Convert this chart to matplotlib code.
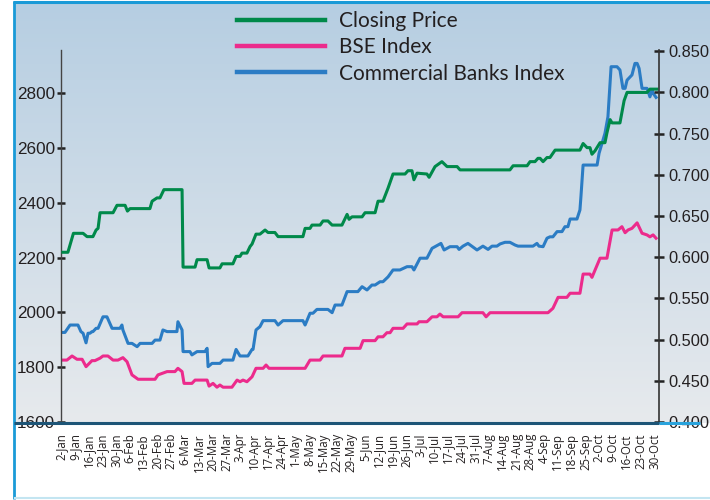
import numpy as np
import matplotlib
matplotlib.use("Agg")
import matplotlib.pyplot as plt
from matplotlib.lines import Line2D

# weekly tick labels (day offsets from 2-Jan)
tick_labels = [
    "2-Jan", "9-Jan", "16-Jan", "23-Jan", "30-Jan", "6-Feb", "13-Feb", "20-Feb",
    "27-Feb", "6-Mar", "13-Mar", "20-Mar", "27-Mar", "3-Apr", "10-Apr", "17-Apr",
    "24-Apr", "1-May", "8-May", "15-May", "22-May", "29-May", "5-Jun", "12-Jun",
    "19-Jun", "26-Jun", "3-Jul", "10-Jul", "17-Jul", "24-Jul", "31-Jul", "7-Aug",
    "14-Aug", "21-Aug", "28-Aug", "4-Sep", "11-Sep", "18-Sep", "25-Sep", "2-Oct",
    "9-Oct", "16-Oct", "23-Oct", "30-Oct",
]
tick_days = [7 * i for i in range(len(tick_labels))]

# Closing Price (right axis)
close_days = [
    1.0, 3.5, 6.3, 11.2, 13.2, 16.2, 17.8, 18.8, 19.8, 26.4,
    28.4, 32.5, 33.7, 35.0, 45.1, 46.2, 48.7, 50.2, 52.2, 61.4,
    61.9, 68.0, 69.0, 74.1, 75.1, 80.6, 81.7, 87.2, 88.8, 90.8,
    91.8, 94.3, 95.9, 96.9, 98.9, 100.9, 103.5, 105.0, 108.5, 110.1,
    122.7, 123.8, 126.3, 127.3, 131.4, 132.9, 135.4, 137.5, 142.5, 145.1,
    146.1, 147.6, 152.7, 154.2, 159.3, 160.8, 163.3, 165.9, 168.4, 174.5,
    176.0, 178.0, 179.0, 180.6, 185.6, 186.7, 189.7, 193.2, 195.8, 200.9,
    202.4, 227.7, 229.3, 236.4, 237.9, 240.4, 241.9, 243.0, 244.5, 246.5,
    248.0, 250.6, 263.2, 264.8, 266.8, 268.3, 269.3, 270.8, 273.4, 275.9,
    276.9, 278.5, 279.5, 283.5, 285.6, 287.1, 297.2, 298.7, 302.3,
]
close_vals = [
    0.606, 0.606, 0.629, 0.629, 0.625, 0.625, 0.633, 0.635, 0.654, 0.654,
    0.663, 0.663, 0.656, 0.659, 0.659, 0.668, 0.672, 0.672, 0.682, 0.682,
    0.588, 0.588, 0.597, 0.597, 0.587, 0.587, 0.592, 0.592, 0.601, 0.601,
    0.605, 0.605, 0.613, 0.616, 0.628, 0.628, 0.633, 0.630, 0.630, 0.625,
    0.625, 0.635, 0.635, 0.639, 0.639, 0.644, 0.644, 0.639, 0.639, 0.652,
    0.646, 0.649, 0.649, 0.654, 0.654, 0.668, 0.668, 0.684, 0.701, 0.701,
    0.705, 0.705, 0.694, 0.702, 0.701, 0.697, 0.710, 0.716, 0.710, 0.710,
    0.706, 0.706, 0.711, 0.711, 0.716, 0.716, 0.720, 0.720, 0.716, 0.721,
    0.721, 0.730, 0.730, 0.738, 0.733, 0.733, 0.725, 0.729, 0.739, 0.739,
    0.751, 0.767, 0.763, 0.763, 0.790, 0.800, 0.800, 0.804, 0.804,
]

# BSE Index (left axis)
bse_days = [
    1.0, 3.0, 5.6, 8.1, 10.7, 12.7, 15.7, 17.2, 19.8, 21.3,
    23.8, 26.4, 28.9, 31.4, 33.5, 36.0, 39.1, 47.7, 49.2, 53.8,
    57.8, 59.3, 61.4, 62.4, 66.4, 68.0, 74.1, 75.1, 77.1, 79.1,
    80.6, 82.2, 86.7, 89.3, 90.8, 92.3, 94.3, 96.9, 98.9, 102.5,
    104.0, 105.5, 123.8, 126.3, 131.4, 132.9, 142.5, 144.0, 151.7, 153.2,
    159.3, 160.8, 163.3, 165.3, 166.9, 168.4, 173.5, 175.5, 180.6, 181.6,
    185.6, 188.2, 190.7, 192.2, 193.8, 201.4, 203.4, 214.0, 215.6, 217.6,
    247.0, 249.5, 252.1, 256.6, 258.2, 263.2, 264.8, 268.3, 269.3, 273.4,
    276.9, 279.5, 282.5, 284.5, 286.1, 287.6, 289.6, 292.2, 294.7, 297.2,
    298.7, 300.3, 301.8,
]
bse_vals = [
    1826, 1826, 1841, 1829, 1829, 1802, 1824, 1824, 1833, 1841,
    1841, 1826, 1826, 1835, 1820, 1772, 1756, 1756, 1772, 1784,
    1784, 1796, 1784, 1741, 1741, 1753, 1753, 1731, 1741, 1727,
    1735, 1727, 1727, 1753, 1747, 1753, 1747, 1765, 1796, 1796,
    1808, 1796, 1796, 1826, 1826, 1841, 1841, 1869, 1869, 1897,
    1897, 1911, 1911, 1926, 1926, 1942, 1942, 1958, 1958, 1966,
    1966, 1984, 1984, 1994, 1984, 1984, 1999, 1999, 1984, 1999,
    1999, 2015, 2055, 2055, 2070, 2070, 2140, 2140, 2128, 2198,
    2198, 2301, 2301, 2313, 2291, 2301, 2307, 2327, 2289, 2283,
    2276, 2283, 2271,
]

# Commercial Banks Index (left axis)
bank_days = [
    1.0, 2.0, 4.6, 8.6, 10.1, 11.2, 12.7, 13.7, 14.7, 15.7,
    16.2, 17.8, 18.8, 21.3, 23.3, 25.9, 29.9, 30.9, 31.4, 34.0,
    36.0, 38.6, 40.1, 46.2, 47.7, 50.2, 51.7, 53.8, 58.8, 59.3,
    61.4, 61.9, 65.4, 66.4, 69.0, 73.0, 74.1, 74.6, 76.6, 80.6,
    82.2, 87.2, 88.8, 90.8, 94.8, 96.9, 97.4, 98.9, 100.9, 102.5,
    108.5, 110.1, 112.6, 122.7, 123.8, 126.3, 127.8, 129.8, 135.4, 137.5,
    139.0, 142.5, 145.1, 150.6, 152.7, 155.2, 157.7, 159.3, 161.8, 163.3,
    165.9, 168.4, 171.9, 175.5, 178.0, 179.0, 181.6, 182.1, 185.6, 188.2,
    191.2, 192.7, 194.3, 197.3, 200.9, 201.9, 203.9, 206.4, 211.0, 214.0,
    216.6, 218.6, 221.1, 222.7, 225.2, 227.7, 230.3, 231.8, 239.4, 241.4,
    242.4, 244.5, 246.5, 248.0, 249.5, 251.6, 254.1, 255.6, 257.1, 258.2,
    261.7, 263.2, 263.7, 264.8, 271.9, 272.9, 275.9, 277.4, 279.0, 282.0,
    283.5, 285.0, 286.1, 287.1, 289.6, 291.1, 292.2, 293.2, 294.7, 297.2,
    297.7, 298.7, 299.8, 300.3, 301.8,
]
bank_vals = [
    1927, 1927, 1954, 1954, 1930, 1924, 1889, 1924, 1924, 1930,
    1930, 1942, 1942, 1984, 1984, 1942, 1942, 1954, 1936, 1887,
    1887, 1875, 1887, 1887, 1899, 1899, 1936, 1930, 1930, 1966,
    1936, 1857, 1857, 1845, 1857, 1857, 1869, 1802, 1814, 1814,
    1826, 1826, 1865, 1841, 1841, 1865, 1865, 1936, 1948, 1970,
    1970, 1954, 1970, 1970, 1954, 1997, 1997, 2011, 2011, 1999,
    2027, 2027, 2076, 2076, 2094, 2082, 2100, 2100, 2112, 2112,
    2130, 2155, 2155, 2167, 2167, 2155, 2191, 2198, 2198, 2234,
    2246, 2252, 2228, 2240, 2240, 2230, 2242, 2252, 2228, 2242,
    2230, 2242, 2242, 2250, 2256, 2256, 2246, 2242, 2242, 2252,
    2242, 2240, 2271, 2276, 2276, 2295, 2295, 2313, 2313, 2341,
    2341, 2374, 2422, 2538, 2538, 2581, 2654, 2714, 2897, 2897,
    2885, 2818, 2818, 2848, 2867, 2909, 2909, 2891, 2818, 2818,
    2809, 2787, 2812, 2800, 2785,
]

left_ticks = [1600, 1800, 2000, 2200, 2400, 2600, 2800]
right_ticks = [0.40, 0.45, 0.50, 0.55, 0.60, 0.65, 0.70, 0.75, 0.80, 0.85]

GREEN = "#00894a"
PINK = "#ec2b8c"
BLUE = "#2b7cc4"
TEXT = "#231f20"
W, H = 710, 500

fig = plt.figure(figsize=(W / 100, H / 100), dpi=100)
fig.patch.set_facecolor("white")

# gradient panel behind the chart
bg = fig.add_axes([14 / W, 77 / H, (W - 14) / W, 420 / H])
top = np.array([182, 206, 226]) / 255
bot = np.array([231, 234, 237]) / 255
t = np.linspace(0, 1, 256)[:, None, None]
grad = top * (1 - t) + bot * t
bg.imshow(grad, aspect="auto", extent=[0, 1, 0, 1], origin="upper")
bg.axis("off")

ax = fig.add_axes([61 / W, 78 / H, 598 / W, 372 / H])
ax.patch.set_visible(False)
ax2 = ax.twinx()

ax.plot(bank_days, bank_vals, color=BLUE, lw=2.2, solid_joinstyle="round")
ax.plot(bse_days, bse_vals, color=PINK, lw=2.2, solid_joinstyle="round")
ax2.plot(close_days, close_vals, color=GREEN, lw=2.2, solid_joinstyle="round")

ax.set_xlim(0, 303.3)
ax.set_ylim(1600, 2958)
ax2.set_ylim(0.4, 0.8515)

ax.set_yticks(left_ticks)
ax.set_yticklabels([str(v) for v in left_ticks], family="Liberation Sans",
                   fontsize=12.3, color=TEXT)
ax2.set_yticks(right_ticks)
ax2.set_yticklabels([f"{v:.3f}" for v in right_ticks], family="Liberation Sans",
                    fontsize=11.8, color=TEXT)

ax.set_xticks(tick_days)
ax.set_xticklabels(tick_labels, rotation=90, family="Open Sans", fontsize=8.3,
                   color=TEXT, va="top", ha="center")
ax.tick_params(axis="x", length=0, pad=8)
ax.tick_params(axis="y", direction="inout", length=6, width=1.8, pad=1.5,
               color="#222222")
ax2.tick_params(axis="y", direction="inout", length=7, width=1.8, pad=3.5,
                color="#222222")

for a in (ax, ax2):
    a.spines["top"].set_visible(False)
    a.spines["bottom"].set_visible(False)
ax.spines["right"].set_visible(False)
ax.spines["left"].set_color("#444444")
ax.spines["left"].set_linewidth(1.0)
ax2.spines["left"].set_visible(False)
ax2.spines["right"].set_color("#333333")
ax2.spines["right"].set_linewidth(1.2)

# frame lines
def fig_line(x0, x1, y0, y1, color, lw):
    fig.add_artist(Line2D([x0 / W, x1 / W], [1 - y0 / H, 1 - y1 / H],
                          transform=fig.transFigure, color=color, lw=lw,
                          solid_capstyle="butt"))

fig_line(13.5, 13.5, 1, 499, "#1a9ad7", 2.0)
fig_line(13, W, 1.5, 1.5, "#1a9ad7", 2.2)
fig_line(14, W, 497.5, 497.5, "#c3e5f1", 1.5)
fig_line(14, 659, 423, 423, "#1d5577", 2.2)
fig_line(659, 700, 423, 423, "#2aa3dc", 2.2)

handles = [Line2D([], [], color=c, lw=3.2) for c in (GREEN, PINK, BLUE)]
fig.legend(handles, ["Closing Price", "BSE Index", "Commercial Banks Index"],
           loc="upper left", bbox_to_anchor=(237 / W, 1 - 11 / H),
           frameon=False, borderpad=0, borderaxespad=0,
           handlelength=4.2, handletextpad=0.7, labelspacing=0.3,
           prop={"family": "Lato", "size": 15}, labelcolor=TEXT)

fig.savefig("out.png", dpi=100)
